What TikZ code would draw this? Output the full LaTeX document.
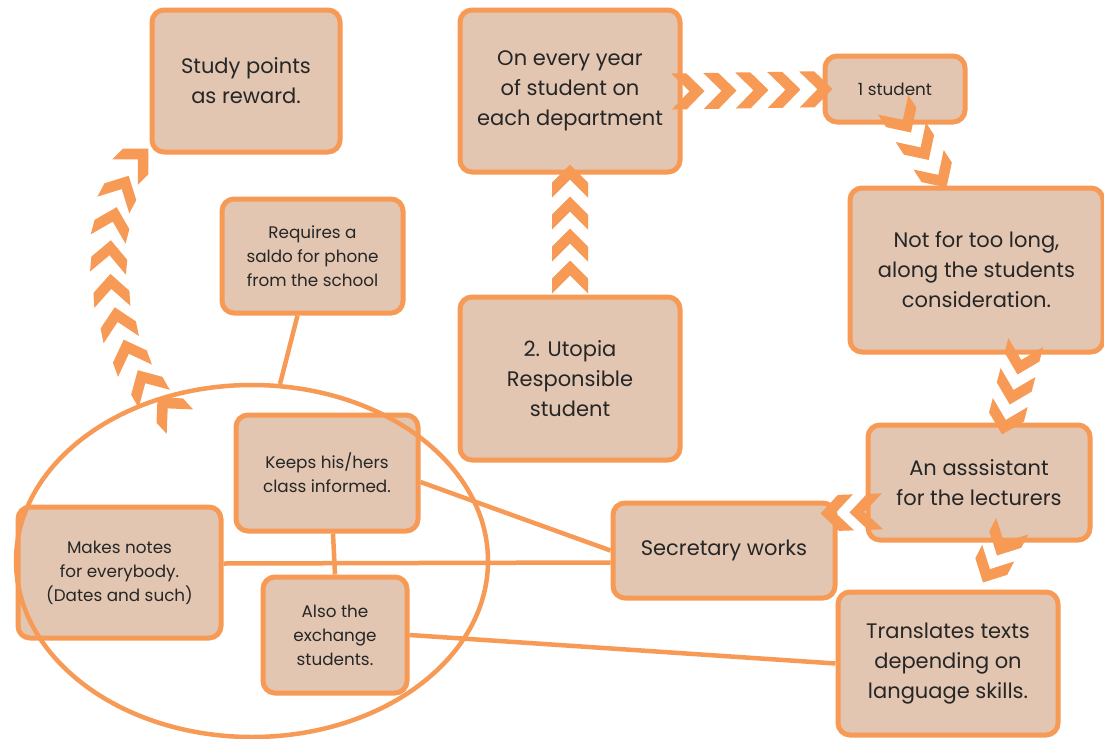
\documentclass[tikz,border=0pt]{standalone}
\usepackage{fontspec}
\setmainfont{Poppins}
\usetikzlibrary{shapes.geometric,decorations.markings}
\definecolor{edge}{HTML}{F79A56}
\definecolor{boxfill}{HTML}{E2C6B2}
\definecolor{ink}{HTML}{262626}
\tikzset{
  box/.style={draw=edge, line width=5pt, fill=boxfill, rounded corners=12pt,
    align=center, inner sep=0pt, text=ink},
  big/.style={font=\fontsize{21}{30}\selectfont},
  small/.style={font=\fontsize{16.8}{24}\selectfont},
  link/.style={draw=edge, line width=4.5pt},
  % a chain of filled chevrons, one every #1 of the path length
  chevrons/.style={decorate, decoration={markings,
    mark=between positions 0 and 1 step #1 with {
      \fill[edge] (0,0) -- (-18,18) -- (-33,18) -- (-15,0) -- (-33,-18) -- (-18,-18) -- cycle;}}}
}
\begin{document}
\begin{tikzpicture}[x=1pt,y=-1pt]
\useasboundingbox (0,0) rectangle (1104,739);
\fill[white] (0,0) rectangle (1104,739);

% boxes
\node[box,big,minimum width=188pt,minimum height=142pt] (study) at (246,81) {Study points\\as reward.};
\node[box,big,minimum width=220pt,minimum height=162pt] (year) at (570,91) {On every year\\of student on\\each department};
\node[box,small,minimum width=140pt,minimum height=66pt] (one) at (895,89) {1 student};
\node[box,big,minimum width=253pt,minimum height=164pt] (notlong) at (976.5,270) {Not for too long,\\along the students\\consideration.};
\node[box,small,minimum width=181pt,minimum height=114pt] (saldo) at (312.5,256) {Requires a\\saldo for phone\\from the school};
\node[box,big,minimum width=220pt,minimum height=163pt] (utopia) at (570,378.5) {2. Utopia\\Responsible\\student};
\node[box,small,minimum width=182pt,minimum height=116pt] (keeps) at (327,473) {Keeps his/hers\\class informed.};
\node[box,small,minimum width=203pt,minimum height=131pt] (notes) at (119.5,572.5) {Makes notes\\for everybody.\\(Dates and such)};
\node[box,small,minimum width=144pt,minimum height=116pt] (also) at (335,635) {Also the\\exchange\\students.};
\node[box,big,minimum width=222pt,minimum height=115pt] (assistant) at (979,482.5) {An asssistant\\for the lecturers};
\node[box,big,minimum width=222pt,minimum height=95pt] (secretary) at (724,550.5) {Secretary works};
\node[box,big,minimum width=220pt,minimum height=143pt] (translates) at (948,663.5) {Translates texts\\depending on\\language skills.};

% group outline
\node[ellipse, draw=edge, line width=4.5pt, minimum width=472pt, minimum height=352pt, inner sep=0pt] (group) at (252,561) {};

% plain links
\draw[link] ([shift={(-15,0)}]saldo.south) -- (group.81);
\draw[link] ([shift={(0,9)}]keeps.east) -- (secretary.west);
\draw[link] ([shift={(0,-9)}]notes.east) -- ([shift={(0,12)}]secretary.west);
\draw[link] ([shift={(6,0)}]keeps.south) -- (also.north);
\draw[link] (also.east) -- (translates.west);

% chevron arrows
\path[chevrons=0.1249] (group.120) .. controls (100,335) and (92,205) .. ([shift={(-1,-6)}]study.south west);
\path[chevrons=0.2499] ([shift={(22,0)}]year.east) -- ([shift={(10,0)}]one.west);
\path[chevrons=0.3333] ([shift={(0,-34)}]utopia.north) -- ([shift={(0,-10)}]year.south);
\path[chevrons=0.4999] ([shift={(16,8)}]one.south) -- ([shift={(-30,2)}]notlong.north);
\path[chevrons=0.4999] ([shift={(41,20)}]notlong.south) -- ([shift={(23,12)}]assistant.north);
\path[chevrons=0.999] ([shift={(-16,30)}]assistant.west) -- ([shift={(-17,-37)}]secretary.east);
\path[chevrons=0.999] ([shift={(18,13)}]assistant.south) -- ([shift={(35,-7)}]translates.north);
\end{tikzpicture}
\end{document}
